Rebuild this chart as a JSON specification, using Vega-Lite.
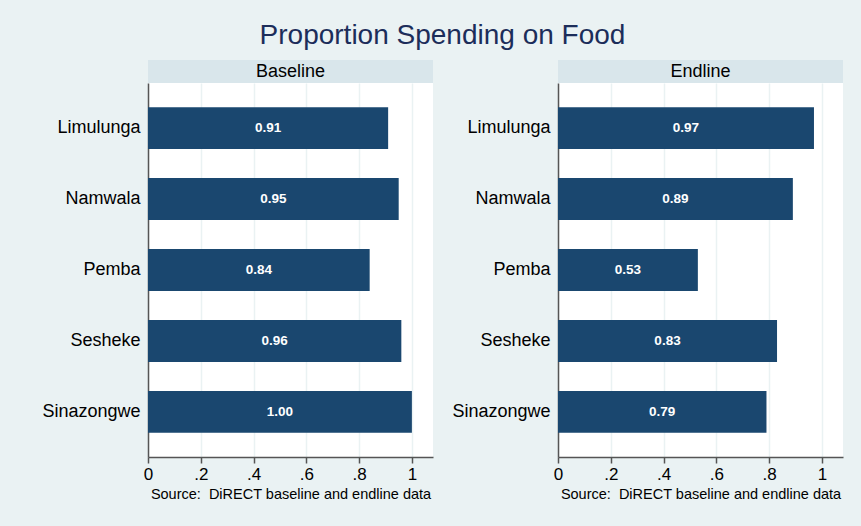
{
  "$schema": "https://vega.github.io/schema/vega-lite/v6.json",
  "background": "#EAF2F3",
  "padding": {"left": 41, "top": 22, "right": 18, "bottom": 25},
  "title": {"text": "Proportion Spending on Food", "fontSize": 28, "color": "#1c2d5a", "font": "Liberation Sans", "fontWeight": "normal", "anchor": "middle", "offset": 10},
  "datasets": {
    "baseline": [
      {"site": "Limulunga", "value": 0.91},
      {"site": "Namwala", "value": 0.95},
      {"site": "Pemba", "value": 0.84},
      {"site": "Sesheke", "value": 0.96},
      {"site": "Sinazongwe", "value": 1.00}
    ],
    "endline": [
      {"site": "Limulunga", "value": 0.97},
      {"site": "Namwala", "value": 0.89},
      {"site": "Pemba", "value": 0.53},
      {"site": "Sesheke", "value": 0.83},
      {"site": "Sinazongwe", "value": 0.79}
    ]
  },
  "spacing": 18,
  "hconcat": [
    {
      "spacing": 0,
      "vconcat": [
        {
          "width": 285, "height": 23,
          "data": {"values": [{"panel": "Baseline"}]},
          "view": {"fill": "#D9E6EB", "stroke": null},
          "mark": {"type": "text", "fontSize": 18, "font": "Liberation Sans", "color": "#000"},
          "encoding": {"text": {"field": "panel", "type": "nominal"}}
        },
        {
          "width": 285, "height": 374,
          "data": {"name": "baseline"},
          "view": {"fill": "#ffffff", "stroke": null},
          "encoding": {
            "y": {"field": "site", "type": "nominal", "sort": null, "title": null,
              "scale": {"paddingInner": 0.41, "paddingOuter": 0.34},
              "axis": {"labelFontSize": 18, "labelFont": "Liberation Sans", "labelColor": "#000", "ticks": false, "labelPadding": 8, "domainColor": "#555", "domainWidth": 1.5, "grid": false}},
            "x": {"field": "value", "type": "quantitative", "scale": {"domain": [0, 1.08], "nice": false},
              "axis": {"values": [0, 0.2, 0.4, 0.6, 0.8, 1], "labelExpr": "datum.value == 0 ? '0' : datum.value == 1 ? '1' : replace(format(datum.value, '.1f'), '0.', '.')",
                "title": "Source:\u00a0 DiRECT baseline and endline data", "titleFontSize": 14.5, "titleFont": "Liberation Sans", "titleFontWeight": "normal", "titleColor": "#000", "titlePadding": 5,
                "grid": true, "gridColor": "#EAF2F3", "gridWidth": 1.5, "domainColor": "#555", "domainWidth": 1.5, "tickColor": "#555", "tickSize": 6, "tickWidth": 1.5,
                "labelFontSize": 17, "labelFont": "Liberation Sans", "labelColor": "#000", "labelFlush": false, "labelPadding": 3}}
          },
          "layer": [
            {"mark": {"type": "bar", "color": "#1a476f"}},
            {"mark": {"type": "text", "color": "#ffffff", "fontSize": 13.5, "fontWeight": "bold", "font": "Liberation Sans"},
              "encoding": {"x": {"field": "value", "type": "quantitative", "stack": "zero", "bandPosition": 0.5},
                "text": {"field": "value", "type": "quantitative", "format": ".2f"}}}
          ]
        }
      ]
    },
    {
      "spacing": 0,
      "vconcat": [
        {
          "width": 285, "height": 23,
          "data": {"values": [{"panel": "Endline"}]},
          "view": {"fill": "#D9E6EB", "stroke": null},
          "mark": {"type": "text", "fontSize": 18, "font": "Liberation Sans", "color": "#000"},
          "encoding": {"text": {"field": "panel", "type": "nominal"}}
        },
        {
          "width": 285, "height": 374,
          "data": {"name": "endline"},
          "view": {"fill": "#ffffff", "stroke": null},
          "encoding": {
            "y": {"field": "site", "type": "nominal", "sort": null, "title": null,
              "scale": {"paddingInner": 0.41, "paddingOuter": 0.34},
              "axis": {"labelFontSize": 18, "labelFont": "Liberation Sans", "labelColor": "#000", "ticks": false, "labelPadding": 8, "domainColor": "#555", "domainWidth": 1.5, "grid": false}},
            "x": {"field": "value", "type": "quantitative", "scale": {"domain": [0, 1.08], "nice": false},
              "axis": {"values": [0, 0.2, 0.4, 0.6, 0.8, 1], "labelExpr": "datum.value == 0 ? '0' : datum.value == 1 ? '1' : replace(format(datum.value, '.1f'), '0.', '.')",
                "title": "Source:\u00a0 DiRECT baseline and endline data", "titleFontSize": 14.5, "titleFont": "Liberation Sans", "titleFontWeight": "normal", "titleColor": "#000", "titlePadding": 5,
                "grid": true, "gridColor": "#EAF2F3", "gridWidth": 1.5, "domainColor": "#555", "domainWidth": 1.5, "tickColor": "#555", "tickSize": 6, "tickWidth": 1.5,
                "labelFontSize": 17, "labelFont": "Liberation Sans", "labelColor": "#000", "labelFlush": false, "labelPadding": 3}}
          },
          "layer": [
            {"mark": {"type": "bar", "color": "#1a476f"}},
            {"mark": {"type": "text", "color": "#ffffff", "fontSize": 13.5, "fontWeight": "bold", "font": "Liberation Sans"},
              "encoding": {"x": {"field": "value", "type": "quantitative", "stack": "zero", "bandPosition": 0.5},
                "text": {"field": "value", "type": "quantitative", "format": ".2f"}}}
          ]
        }
      ]
    }
  ],
  "config": {"view": {"stroke": null}}
}
